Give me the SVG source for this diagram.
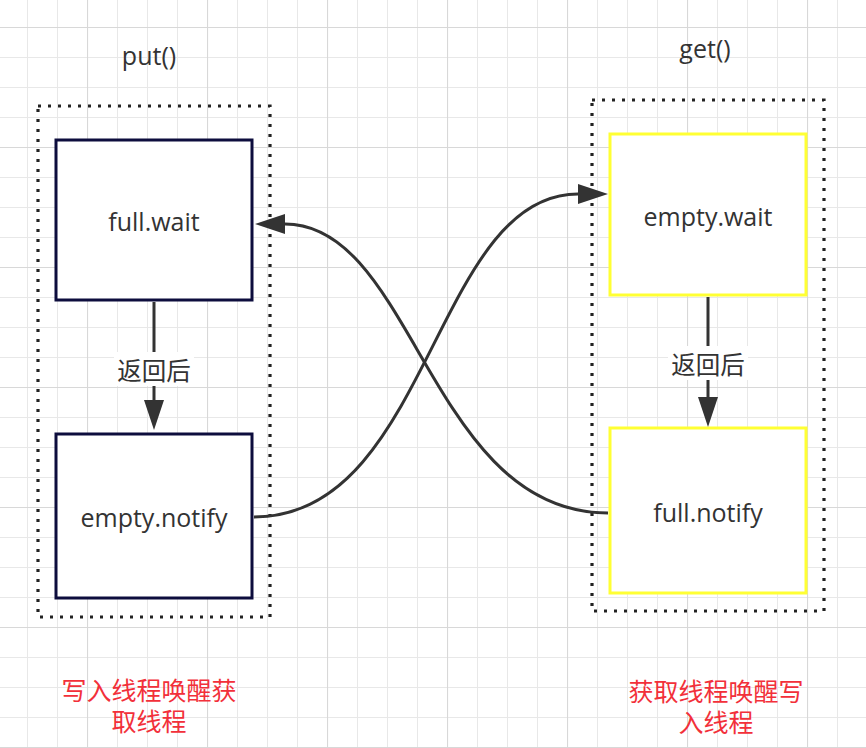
<svg xmlns="http://www.w3.org/2000/svg" width="866" height="748" viewBox="0 0 866 748">
<defs>
<pattern id="minor" width="30" height="30" patternUnits="userSpaceOnUse" x="27" y="27">
<path d="M0.5 0V30M0 0.5H30" fill="none" stroke="#e8e8e8" stroke-width="1"/>
</pattern>
<pattern id="major" width="120" height="120" patternUnits="userSpaceOnUse" x="87" y="27">
<path d="M0.5 0V120M0 0.5H120" fill="none" stroke="#d8d8d8" stroke-width="1.2"/>
</pattern>
<marker id="ah" markerUnits="userSpaceOnUse" markerWidth="30" markerHeight="20" refX="0" refY="10" orient="auto">
<path d="M0,0 L30,10 L0,20 Z" fill="#333"/>
</marker>
</defs>
<style>
.lat{font-family:"Open Sans","Liberation Sans",sans-serif;font-size:25px;fill:#333;text-anchor:middle}
.cjk{font-family:"Noto Sans CJK SC",sans-serif;font-size:24.5px;fill:#333;text-anchor:middle}
.red{font-family:"Noto Sans CJK SC",sans-serif;font-size:25px;fill:#f2303a;text-anchor:middle}
.dot{fill:none;stroke:#222;stroke-width:3.2;stroke-dasharray:3 7}
.navy{fill:#fff;stroke:#0d0d3d;stroke-width:3}
.yel{fill:#fff;stroke:#ffff33;stroke-width:3}
.edge{fill:none;stroke:#333;stroke-width:3}
</style>
<rect width="866" height="748" fill="#fff"/>
<rect width="866" height="748" fill="url(#minor)"/>
<rect width="866" height="748" fill="url(#major)"/>

<g id="put-group">
<text class="lat" x="149" y="65">put()</text>
<rect class="dot" x="38" y="106" width="232" height="511"/>
</g>
<g id="get-group">
<text class="lat" x="705" y="58">get()</text>
<rect class="dot" x="592" y="100" width="232" height="511"/>
</g>

<g id="full-wait">
<rect class="navy" x="56" y="140" width="196" height="160"/>
<text class="lat" x="154" y="231">full.wait</text>
</g>
<g id="empty-notify">
<rect class="navy" x="56" y="434" width="196" height="164"/>
<text class="lat" x="154" y="527">empty.notify</text>
</g>
<g id="empty-wait">
<rect class="yel" x="610" y="134" width="196" height="161"/>
<text class="lat" x="708" y="226">empty.wait</text>
</g>
<g id="full-notify">
<rect class="yel" x="610" y="428" width="196" height="165"/>
<text class="lat" x="708" y="522">full.notify</text>
</g>

<g id="connectors">
<path class="edge" d="M154 302 V400" marker-end="url(#ah)"/>
<rect x="114" y="352" width="80" height="34" fill="#fff"/>
<text class="cjk" x="154" y="380">返回后</text>
<path class="edge" d="M708 297 V397" marker-end="url(#ah)"/>
<rect x="668" y="346" width="80" height="34" fill="#fff"/>
<text class="cjk" x="708" y="374">返回后</text>
<path class="edge" d="M254 517 C430 517 434 194 578 194" marker-end="url(#ah)"/>
<path class="edge" d="M608 513 C430 513 414 224 285 224" marker-end="url(#ah)"/>
</g>

<g id="notes">
<text class="red" x="149" y="700"><tspan x="149" y="700">写入线程唤醒获</tspan><tspan x="149" y="731">取线程</tspan></text>
<text class="red" x="716" y="701"><tspan x="716" y="701">获取线程唤醒写</tspan><tspan x="716" y="732">入线程</tspan></text>
</g>
</svg>
